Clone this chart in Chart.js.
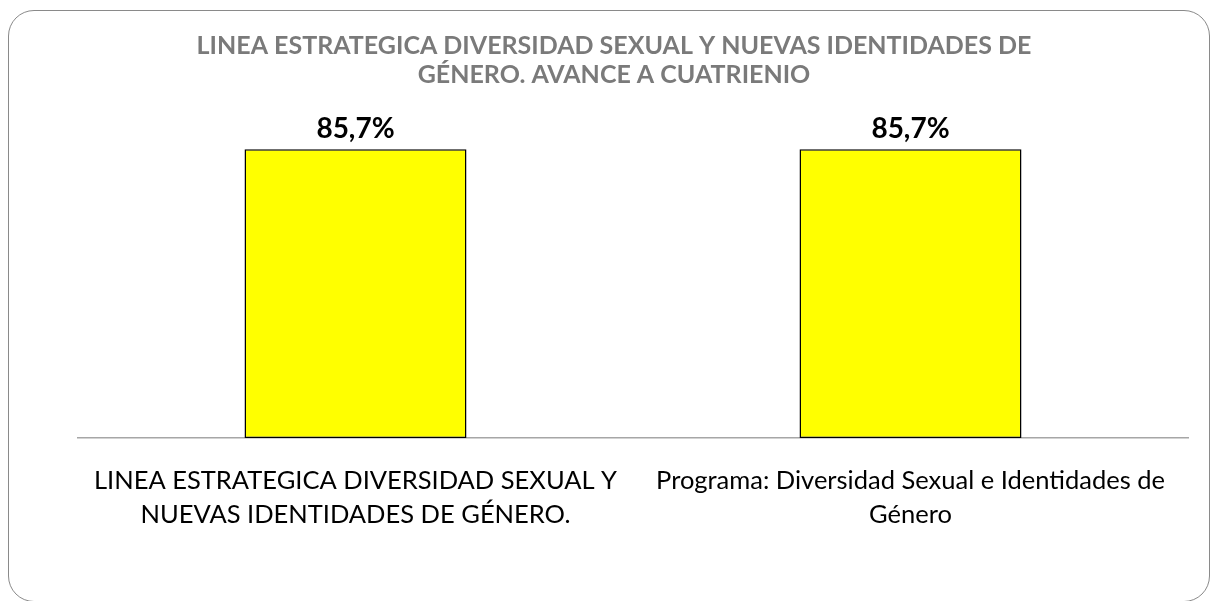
<!DOCTYPE html>
<html>
<head>
<meta charset="utf-8">
<script src="https://cdn.jsdelivr.net/npm/chart.js@4"></script>
<style>
  html, body { margin: 0; padding: 0; background: #fff; }
  #wrap { position: relative; width: 1215px; height: 601px; }
  #frame {
    position: absolute; left: 8px; top: 10px; width: 1202px; height: 592px;
    border: 1px solid #8a8a8a; border-radius: 26px; box-sizing: border-box;
  }
  canvas { position: absolute; left: 0; top: 0; }
</style>
</head>
<body>
<div id="wrap">
  <div id="frame"></div>
  <canvas id="chart" width="1215" height="601"></canvas>
</div>
<script>
const chartTitle = [
    "LINEA ESTRATEGICA DIVERSIDAD SEXUAL Y NUEVAS IDENTIDADES DE",
    "GÉNERO. AVANCE A CUATRIENIO"
];
const categories = [
    ["LINEA ESTRATEGICA DIVERSIDAD SEXUAL Y", "NUEVAS IDENTIDADES DE GÉNERO."],
    ["Programa: Diversidad Sexual e Identidades de", "Género"]
];
const avance = [85.7, 85.7];

function pct(v) {
    return v.toFixed(1).replace(".", ",") + "%";
}

// value labels above each bar
const barLabels = {
    id: "barLabels",
    afterDatasetsDraw(chart) {
        const ctx = chart.ctx;
        const meta = chart.getDatasetMeta(0);
        ctx.save();
        ctx.font = "bold 28px Lato";
        ctx.fillStyle = "#000";
        ctx.textAlign = "center";
        ctx.textBaseline = "bottom";
        meta.data.forEach((bar, i) => {
            ctx.fillText(pct(avance[i]), bar.x, bar.y - 6);
        });
        ctx.restore();
    }
};

new Chart(document.getElementById("chart").getContext("2d"), {
    type: "bar",
    data: {
        labels: categories,
        datasets: [{
            data: avance,
            backgroundColor: "#ffff00",
            borderColor: "#000",
            borderWidth: 1.5,
            borderSkipped: false,
            barPercentage: 0.4,
            categoryPercentage: 1
        }]
    },
    options: {
        responsive: false,
        animation: false,
        layout: { padding: { left: 40, right: 27, top: 0, bottom: 0 } },
        plugins: {
            legend: { display: false },
            tooltip: { enabled: false },
            title: {
                display: true,
                text: chartTitle,
                color: "#7a7a7a",
                font: { family: "Lato", size: 25, weight: "bold", lineHeight: 1.14 },
                padding: { top: 32, bottom: 12 }
            }
        },
        scales: {
            x: {
                grid: { display: false },
                border: { display: true, color: "#a6a6a6", width: 1.5 },
                ticks: {
                    color: "#000",
                    font: { family: "Lato", size: 25.5, lineHeight: 1.34 },
                    padding: 18,
                    maxRotation: 0,
                    autoSkip: false
                },
                afterFit(scale) { scale.height = 163; }
            },
            y: {
                min: 0,
                max: 100,
                grid: { display: false },
                border: { display: false },
                ticks: { display: false },
                afterFit(scale) { scale.width = 38; }
            }
        }
    },
    plugins: [barLabels]
});
</script>
</body>
</html>
